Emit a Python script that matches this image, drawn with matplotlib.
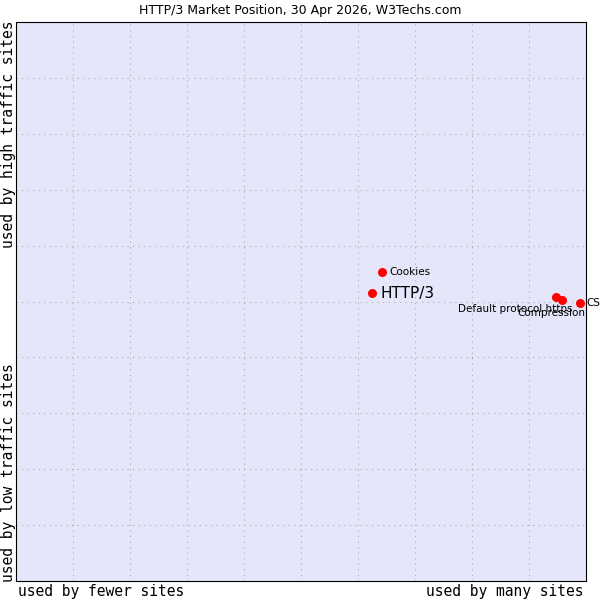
import matplotlib.pyplot as plt

# positions on a 0..1 scale (share of sites, traffic rank)
names = ['HTTP/3', 'Cookies', 'Default protocol https', 'Compression', 'CSS']
usage = [0.625, 0.642, 0.947, 0.958, 0.989]
traffic = [0.515, 0.553, 0.508, 0.503, 0.497]

fig = plt.figure(figsize=(6, 6), dpi=100)
ax = fig.add_axes([16/600, 19/600, 570/600, 559/600])
ax.set_facecolor('#e6e6fa')
ax.set_xlim(0, 1)
ax.set_ylim(0, 1)
ax.set_xticks([i / 10 for i in range(1, 10)])
ax.set_yticks([i / 10 for i in range(1, 10)])
ax.tick_params(length=0, labelbottom=False, labelleft=False)
ax.grid(True, color='#aaaaaa', linestyle=(0, (1, 4)), linewidth=0.8)

ax.scatter(usage, traffic, color='red', s=30, zorder=3, clip_on=False)
ax.annotate('HTTP/3', (usage[0], traffic[0]), xytext=(6, 0), textcoords='offset points',
            va='center', fontsize=11)
ax.annotate('Cookies', (usage[1], traffic[1]), xytext=(5, 0), textcoords='offset points',
            va='center', fontsize=7.5)
ax.annotate('Default protocol https', (usage[2], traffic[2]), xytext=(12, -5),
            textcoords='offset points', va='top', ha='right', fontsize=7.5)
ax.annotate('Compression', (usage[3], traffic[3]), xytext=(17, -6),
            textcoords='offset points', va='top', ha='right', fontsize=7.5)
ax.annotate('CSS', (usage[4], traffic[4]), xytext=(5, 0), textcoords='offset points',
            va='center', fontsize=7.5, annotation_clip=False)

fig.suptitle('HTTP/3 Market Position, 30 Apr 2026, W3Techs.com', y=0.993, fontsize=9)
mono = 'DejaVu Sans Mono'
fig.text(18/600, 0.002, 'used by fewer sites', family=mono, fontsize=10.5, va='bottom')
fig.text(583/600, 0.002, 'used by many sites', family=mono, fontsize=10.5, va='bottom', ha='right')
fig.text(0.002, 0.965, 'used by high traffic sites', family=mono, fontsize=10.5,
         rotation=90, va='top')
fig.text(0.002, 0.03, 'used by low traffic sites', family=mono, fontsize=10.5,
         rotation=90, va='bottom')

fig.savefig('out.png')
